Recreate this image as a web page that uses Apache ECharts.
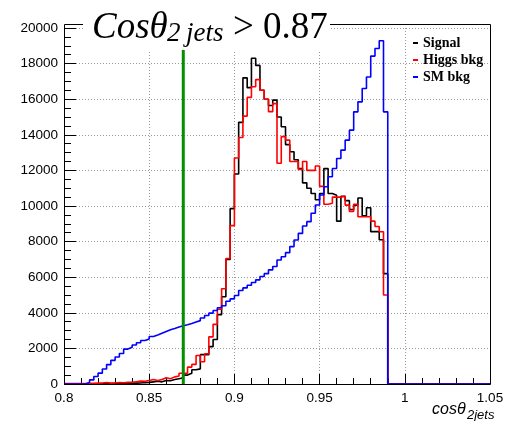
<!DOCTYPE html>
<html>
<head>
<meta charset="utf-8">
<script src="https://cdn.jsdelivr.net/npm/echarts@6/dist/echarts.min.js"></script>
<style>
html, body { margin: 0; padding: 0; background: #fff; }
#chart { width: 519px; height: 421px; }
</style>
</head>
<body>
<div id="chart"></div>
<script>
// 100 bins of 0.0025 between 0.8 and 1.05
var xMin = 0.8
var xMax = 1.05
var binWidth = 0.0025
var frameTop = 20240
var cutValue = 0.87
var cutTop = 20000

var signal = [
  0, 0, 0, 0, 0, 0, 0, 10, 10, 20,
  20, 20, 30, 30, 40, 50, 50, 60, 80, 90,
  120, 150, 120, 200, 180, 250, 300, 350, 500, 600,
  800, 850, 1650, 1650, 2100, 2500, 3900, 4900, 7000, 9850,
  11800, 14700, 17200, 16650, 18300, 17900, 16500, 16000, 15650, 15950,
  15000, 14450, 13450, 13050, 12600, 12100, 11300, 11000, 10700, 10350,
  10700, 12100, 10700, 10600, 9150, 10550, 10300, 9800, 10050, 10450,
  9450, 9900, 8560, 8560, 8100, 6200, 0, 0, 0, 0,
  0, 0, 0, 0, 0, 0, 0, 0, 0, 0,
  0, 0, 0, 0, 0, 0, 0, 0, 0, 0
]
var higgsBkg = [
  20, 20, 30, 30, 30, 40, 40, 50, 60, 80,
  50, 60, 80, 70, 90, 100, 130, 160, 150, 200,
  250, 200, 250, 350, 300, 400, 450, 600, 600, 950,
  1100, 1600, 1250, 1700, 2650, 3350, 4200, 5350, 7050, 8900,
  12700, 13850, 15050, 16100, 16700, 17100, 16500, 16000, 15300, 15750,
  12400, 13900, 13700, 12500, 12500, 12050, 12500, 12000, 12000, 12250,
  11100, 10100, 10150, 10500, 10500, 10550, 10050, 9700, 10100, 9400,
  9400, 9400, 9150, 8850, 8550, 5000, 0, 0, 0, 0,
  0, 0, 0, 0, 0, 0, 0, 0, 0, 0,
  0, 0, 0, 0, 0, 0, 0, 0, 0, 0
]
var smBkg = [
  0, 0, 0, 0, 0, 80, 230, 420, 610, 840,
  1090, 1330, 1520, 1710, 1960, 2060, 2190, 2320, 2440, 2530,
  2670, 2750, 2850, 2950, 3050, 3120, 3200, 3270, 3330, 3400,
  3480, 3560, 3710, 3850, 3980, 4130, 4280, 4400, 4650, 4780,
  4970, 5250, 5400, 5550, 5700, 5850, 6040, 6200, 6410, 6600,
  6970, 7150, 7380, 7720, 8090, 8460, 8880, 9120, 9590, 10060,
  10620, 11080, 11640, 12110, 12670, 13140, 13700, 14260, 15290, 15850,
  16600, 17250, 18420, 18850, 19280, 15290, 0, 0, 0, 0,
  0, 0, 0, 0, 0, 0, 0, 0, 0, 0,
  0, 0, 0, 0, 0, 0, 0, 0, 0, 0
]
var seriesNames = ['Signal', 'Higgs bkg', 'SM bkg']
var seriesColors = ['#000000', '#ff0000', '#0000ff']

// histogram outline: value held from each bin's low edge to the next edge
function toSteps(values) {
  var pts = values.map(function (v, i) {
    return [+(xMin + i * binWidth).toFixed(4), v]
  })
  pts.push([xMax, 0])
  return pts
}

function histSeries(name, values, color) {
  return {
    name: name,
    type: 'line',
    step: 'end',
    symbol: 'none',
    data: toSteps(values),
    lineStyle: { color: color, width: 1.6 },
    itemStyle: { color: color }
  }
}

var chart = echarts.init(document.getElementById('chart'))

chart.setOption({
  animation: false,
  grid: { left: 64, right: 29, top: 28, bottom: 37, show: false },
  legend: {
    data: seriesNames,
    orient: 'vertical',
    left: 408,
    top: 31,
    icon: 'rect',
    itemWidth: 5,
    itemHeight: 2,
    itemGap: 3,
    textStyle: { fontFamily: 'Liberation Serif', fontWeight: 'bold', fontSize: 14, color: '#000' }
  },
  xAxis: {
    type: 'value',
    min: xMin,
    max: xMax,
    interval: 0.05,
    axisLine: { show: false },
    axisTick: { inside: true, length: 10, lineStyle: { color: '#000' } },
    minorTick: { show: true, splitNumber: 5, length: 6, lineStyle: { color: '#000' } },
    splitLine: { show: true, lineStyle: { color: '#999', type: [1, 2] } },
    axisLabel: {
      color: '#000', fontSize: 13.5, fontFamily: 'Liberation Sans', margin: 7,
      formatter: function (v) { return String(+v.toFixed(2)) }
    }
  },
  yAxis: {
    type: 'value',
    min: 0,
    max: 20000,
    interval: 2000,
    axisLine: { show: false },
    axisTick: { inside: true, length: 12, lineStyle: { color: '#000' } },
    minorTick: { show: true, splitNumber: 4, length: 7, lineStyle: { color: '#000' } },
    splitLine: { show: true, lineStyle: { color: '#999', type: [1, 2] } },
    axisLabel: {
      color: '#000', fontSize: 13.5, fontFamily: 'Liberation Sans', margin: 6,
      formatter: function (v) { return String(v) }
    }
  },
  series: [
    histSeries(seriesNames[0], signal, seriesColors[0]),
    histSeries(seriesNames[1], higgsBkg, seriesColors[1]),
    histSeries(seriesNames[2], smBkg, seriesColors[2]),
    {
      name: 'cut',
      type: 'line',
      symbol: 'none',
      data: [[cutValue, 0], [cutValue, cutTop]],
      lineStyle: { color: '#009000', width: 3 },
      z: 5
    }
  ]
})

// frame box, title pave and axis title
var lo = chart.convertToPixel({ gridIndex: 0 }, [xMin, 0])
var hi = chart.convertToPixel({ gridIndex: 0 }, [xMax, frameTop])
var fx0 = Math.round(lo[0]) + 0.5
var fx1 = Math.round(hi[0]) + 0.5
var fy0 = Math.round(hi[1]) + 0.5
var fy1 = Math.round(lo[1]) + 0.5

chart.setOption({
  graphic: [
    {
      type: 'rect', z: 90,
      shape: { x: fx0, y: fy0, width: fx1 - fx0, height: fy1 - fy0 },
      style: { fill: null, stroke: '#000', lineWidth: 1 }
    },
    {
      type: 'rect', z: 100,
      shape: { x: 83, y: 0, width: 247, height: 50 },
      style: { fill: '#fff' }
    },
    {
      type: 'text', z: 101, x: 92, y: 28,
      style: { text: 'Cosθ', fontFamily: 'Liberation Serif', fontStyle: 'italic', fontSize: 37, fill: '#000', verticalAlign: 'middle' }
    },
    {
      type: 'text', z: 101, x: 167, y: 34,
      style: { text: '2\u2009jets', fontFamily: 'Liberation Serif', fontStyle: 'italic', fontSize: 27, fill: '#000', verticalAlign: 'middle' }
    },
    {
      type: 'text', z: 101, x: 233, y: 28,
      style: { text: '> 0.87', fontFamily: 'Liberation Serif', fontSize: 37, fill: '#000', verticalAlign: 'middle' }
    },
    {
      type: 'text', z: 101, x: 432, y: 410,
      style: { text: 'cosθ', fontFamily: 'Liberation Sans', fontStyle: 'italic', fontSize: 16, fill: '#000', verticalAlign: 'middle' }
    },
    {
      type: 'text', z: 101, x: 467, y: 415,
      style: { text: '2jets', fontFamily: 'Liberation Sans', fontStyle: 'italic', fontSize: 13, fill: '#000', verticalAlign: 'middle' }
    }
  ]
})
</script>
</body>
</html>
